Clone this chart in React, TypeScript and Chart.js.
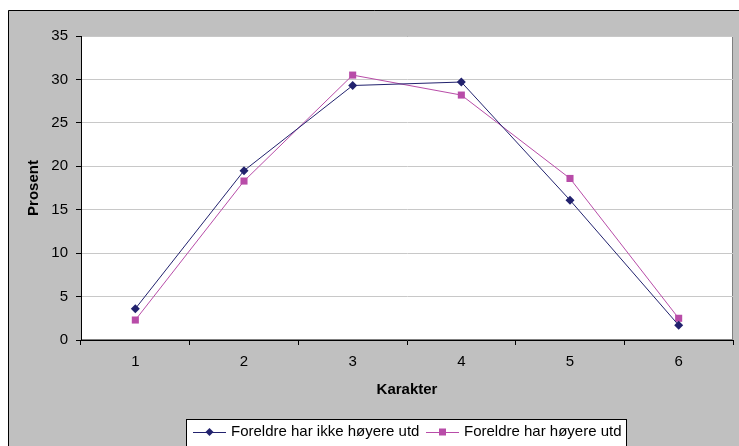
import React, { useEffect, useRef } from 'react';
import { Chart, registerables } from 'chart.js';

Chart.register(...registerables);

const categories = ['1', '2', '3', '4', '5', '6'];
const seriesIkkeHoyere = [3.6, 19.5, 29.3, 29.7, 16.1, 1.7];
const seriesHoyere = [2.3, 18.3, 30.5, 28.2, 18.6, 2.5];
const seriesLabels = ['Foreldre har ikke høyere utd', 'Foreldre har høyere utd'];
const yMin = 0;
const yMax = 35;
const yStep = 5;
const xTitle = 'Karakter';
const yTitle = 'Prosent';

const FONT = "'Liberation Sans', Arial, Helvetica, sans-serif";
const NAVY = '#22226E';
const PINK = '#B84CA8';

const framePlugin = {
  id: 'excelFrame',
  beforeDraw(chart: any) {
    const { ctx, width, height, chartArea: a } = chart;
    ctx.save();
    ctx.fillStyle = '#ffffff';
    ctx.fillRect(0, 0, width, height);
    ctx.fillStyle = '#C0C0C0';
    ctx.fillRect(8, 10, width - 8, height - 10);
    ctx.strokeStyle = '#000';
    ctx.lineWidth = 1;
    ctx.beginPath();
    ctx.moveTo(8.5, height + 2);
    ctx.lineTo(8.5, 10.5);
    ctx.lineTo(width + 2, 10.5);
    ctx.stroke();
    ctx.fillStyle = '#ffffff';
    ctx.fillRect(a.left, a.top, a.right - a.left, a.bottom - a.top);
    ctx.strokeStyle = '#808080';
    ctx.strokeRect(a.left + 0.5, a.top + 0.5, a.right - a.left - 1, a.bottom - a.top - 1);
    ctx.restore();
  },
  afterDraw(chart: any) {
    const { ctx, chartArea: a } = chart;
    ctx.save();
    ctx.fillStyle = '#000';
    ctx.font = `bold 15px ${FONT}`;
    ctx.textAlign = 'center';
    ctx.textBaseline = 'middle';
    ctx.fillText(xTitle, (a.left + a.right) / 2, 390);
    ctx.save();
    ctx.translate(34, (a.top + a.bottom) / 2);
    ctx.rotate(-Math.PI / 2);
    ctx.fillText(yTitle, 0, 0);
    ctx.restore();

    // legend
    const lx = 186.5;
    const ly = 419.5;
    const lw = 440;
    ctx.fillStyle = '#ffffff';
    ctx.fillRect(lx, ly, lw, 40);
    ctx.strokeStyle = '#000';
    ctx.lineWidth = 1;
    ctx.strokeRect(lx, ly, lw, 40);
    const starts = [193, 426];
    const cy = 432;
    ctx.font = `15px ${FONT}`;
    ctx.textAlign = 'left';
    ctx.textBaseline = 'middle';
    chart.data.datasets.forEach((ds: any, i: number) => {
      const x0 = starts[i];
      ctx.strokeStyle = ds.borderColor;
      ctx.lineWidth = 1;
      ctx.beginPath();
      ctx.moveTo(x0, cy + 0.5);
      ctx.lineTo(x0 + 33, cy + 0.5);
      ctx.stroke();
      ctx.fillStyle = ds.borderColor;
      const mx = x0 + 16.5;
      if (ds.pointStyle === 'rectRot') {
        ctx.beginPath();
        ctx.moveTo(mx, cy - 4);
        ctx.lineTo(mx + 4, cy);
        ctx.lineTo(mx, cy + 4);
        ctx.lineTo(mx - 4, cy);
        ctx.closePath();
        ctx.fill();
      } else {
        ctx.fillRect(mx - 3.5, cy - 3.5, 7, 7);
      }
      ctx.fillStyle = '#000';
      ctx.fillText(ds.label, x0 + 38, cy);
    });
    ctx.restore();
  },
};

export default function App() {
  const ref = useRef<HTMLCanvasElement | null>(null);

  useEffect(() => {
    if (!ref.current) return;
    const chart = new Chart(ref.current, {
      type: 'line',
      data: {
        labels: categories,
        datasets: [
          {
            label: seriesLabels[0],
            data: seriesIkkeHoyere,
            borderColor: NAVY,
            backgroundColor: NAVY,
            borderWidth: 1,
            pointStyle: 'rectRot',
            pointRadius: 4.5,
            pointBorderWidth: 0,
            tension: 0,
          },
          {
            label: seriesLabels[1],
            data: seriesHoyere,
            borderColor: PINK,
            backgroundColor: PINK,
            borderWidth: 1,
            pointStyle: 'rect',
            pointRadius: 5,
            pointBorderWidth: 0,
            tension: 0,
          },
        ],
      },
      options: {
        responsive: false,
        animation: false,
        devicePixelRatio: 1,
        layout: { padding: { top: 36, right: 6, bottom: 0, left: 0 } },
        plugins: {
          legend: { display: false },
          tooltip: { enabled: false },
        },
        scales: {
          x: {
            type: 'category',
            offset: true,
            afterFit: (s: any) => {
              s.height = 106;
            },
            grid: {
              offset: true,
              drawOnChartArea: false,
              drawTicks: true,
              tickLength: 5,
              tickColor: '#000',
            },
            border: { display: true, color: '#000', width: 1 },
            ticks: {
              color: '#000',
              font: { family: FONT, size: 15 },
              padding: 8,
              maxRotation: 0,
            },
          },
          y: {
            min: yMin,
            max: yMax,
            afterFit: (s: any) => {
              s.width = 81;
            },
            grid: {
              color: '#C8C8C8',
              drawTicks: true,
              tickLength: 5,
              tickColor: '#000',
            },
            border: { display: true, color: '#000', width: 1 },
            ticks: {
              stepSize: yStep,
              color: '#000',
              font: { family: FONT, size: 15 },
              padding: 8,
            },
          },
        },
      },
      plugins: [framePlugin],
    });
    return () => chart.destroy();
  }, []);

  return (
    <div style={{ position: 'fixed', left: 0, top: 0, width: 739, height: 446 }}>
      <canvas ref={ref} width={739} height={446} style={{ display: 'block', width: 739, height: 446 }} />
    </div>
  );
}
